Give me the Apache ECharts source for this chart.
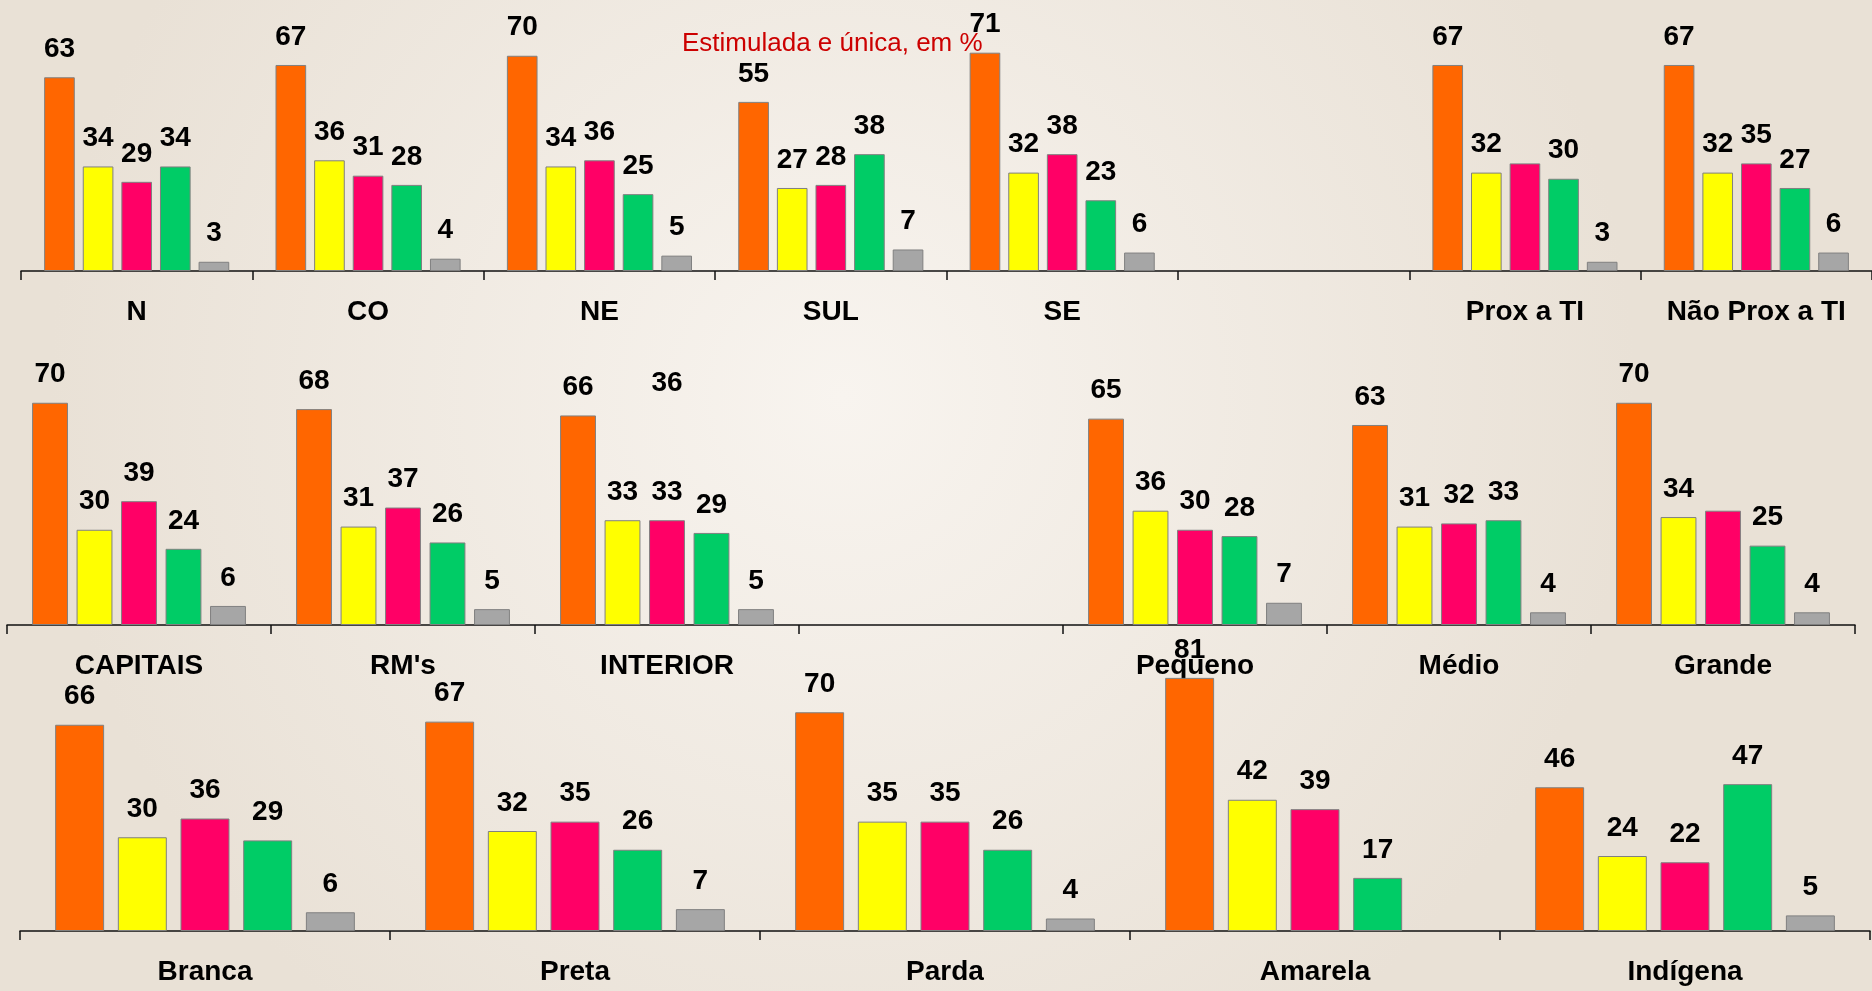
<!DOCTYPE html>
<html>
<head>
<meta charset="utf-8">
<title>Estimulada e única, em %</title>
<script src="https://cdn.jsdelivr.net/npm/echarts@6/dist/echarts.min.js"></script>
<style>
  html, body { margin: 0; padding: 0; }
  #chart { width: 1872px; height: 991px; }
</style>
</head>
<body>
<div id="chart"></div>
<script>
// categorias de cada faixa ('' = posição vazia no gráfico original)
const catsRegiao = ['N', 'CO', 'NE', 'SUL', 'SE', '', 'Prox a TI', 'Não Prox a TI'];
const catsPorte = ['CAPITAIS', "RM's", 'INTERIOR', '', 'Pequeno', 'Médio', 'Grande'];
const catsCor = ['Branca', 'Preta', 'Parda', 'Amarela', 'Indígena'];

const seriesNames = ['Série 1', 'Série 2', 'Série 3', 'Série 4', 'Série 5'];
const seriesColors = ['#FF6600', '#FFFF00', '#FF0066', '#00CC66', '#A6A6A6'];

// faixa 1
const regiaoS1 = [63, 67, 70, 55, 71, '-', 67, 67];
const regiaoS2 = [34, 36, 34, 27, 32, '-', 32, 32];
const regiaoS3 = [29, 31, 36, 28, 38, '-', 35, 35];
const regiaoS4 = [34, 28, 25, 38, 23, '-', 30, 27];
const regiaoS5 = [3, 4, 5, 7, 6, '-', 3, 6];

// faixa 2
const porteS1 = [70, 68, 66, '-', 65, 63, 70];
const porteS2 = [30, 31, 33, '-', 36, 31, 34];
const porteS3 = [39, 37, 33, '-', 30, 32, 36];
const porteS4 = [24, 26, 29, '-', 28, 33, 25];
const porteS5 = [6, 5, 5, '-', 7, 4, 4];

// faixa 3
const corS1 = [66, 67, 70, 81, 46];
const corS2 = [30, 32, 35, 42, 24];
const corS3 = [36, 35, 35, 39, 22];
const corS4 = [29, 26, 26, 17, 47];
const corS5 = [6, 7, 4, '-', 5];

// barras sem rótulo no original: [categoria, índice da série]
const semRotulo = [['Prox a TI', 2], ['Grande', 2]];
// rótulo solto que aparece sobre INTERIOR
const rotuloSolto = [['INTERIOR', 76, '36']];

const rows = [
  {cats: catsRegiao, values: [regiaoS1, regiaoS2, regiaoS3, regiaoS4, regiaoS5]},
  {cats: catsPorte, values: [porteS1, porteS2, porteS3, porteS4, porteS5]},
  {cats: catsCor, values: [corS1, corS2, corS3, corS4, corS5]}
];

// posição de cada faixa na tela
const layout = [
  {grid: {left: 21, top: 25, width: 1864, height: 246}, barGap: '26%', catGap: '20%'},
  {grid: {left: 7, top: 371, width: 1848, height: 254}, barGap: '24%', catGap: '19%'},
  {grid: {left: 20, top: 681, width: 1850, height: 250}, barGap: '28%', catGap: '19%'}
];

const fontFamily = '"Liberation Sans", Arial, sans-serif';
const labelStyle = {color: '#000', fontSize: 28, fontWeight: 'bold', fontFamily: fontFamily};

const grids = [], xAxes = [], yAxes = [], series = [];
rows.forEach((row, r) => {
  grids.push(layout[r].grid);
  xAxes.push({
    type: 'category', gridIndex: r, data: row.cats,
    axisLine: {lineStyle: {color: '#111', width: 1.5}},
    axisTick: {show: true, alignWithLabel: false, interval: 0, length: 9, lineStyle: {color: '#111', width: 1.5}},
    axisLabel: Object.assign({margin: 27, interval: 0}, labelStyle)
  });
  yAxes.push({type: 'value', gridIndex: r, min: 0, max: 80, show: false, splitLine: {show: false}});
  row.values.forEach((vals, s) => {
    series.push({
      name: seriesNames[s], type: 'bar', xAxisIndex: r, yAxisIndex: r,
      clip: false,
      barGap: layout[r].barGap, barCategoryGap: layout[r].catGap,
      itemStyle: {color: seriesColors[s], borderColor: '#808080', borderWidth: 1},
      label: Object.assign({show: true, position: 'top', distance: 14}, labelStyle),
      data: vals.map((v, i) => {
        const hide = semRotulo.some(h => h[0] === row.cats[i] && h[1] === s);
        return hide ? {value: v, label: {show: false}} : v;
      })
    });
  });
});

series.push({
  type: 'scatter', xAxisIndex: 1, yAxisIndex: 1, symbolSize: 1,
  itemStyle: {opacity: 0},
  data: rotuloSolto.map(d => ({value: [d[0], d[1]], name: d[2]})),
  label: Object.assign({show: true, position: 'inside', opacity: 1, formatter: p => p.name}, labelStyle)
});

const chart = echarts.init(document.getElementById('chart'));
chart.setOption({
  animation: false,
  backgroundColor: {
    type: 'radial', x: 0.45, y: 0.4, r: 0.8,
    colorStops: [{offset: 0, color: '#F8F4EF'}, {offset: 1, color: '#E9E1D6'}]
  },
  title: {
    text: 'Estimulada e única, em %', left: 682, top: 31, padding: 0,
    textStyle: {color: '#CC0000', fontSize: 26, fontWeight: 'normal', fontFamily: fontFamily}
  },
  grid: grids,
  xAxis: xAxes,
  yAxis: yAxes,
  series: series
});
</script>
</body>
</html>
